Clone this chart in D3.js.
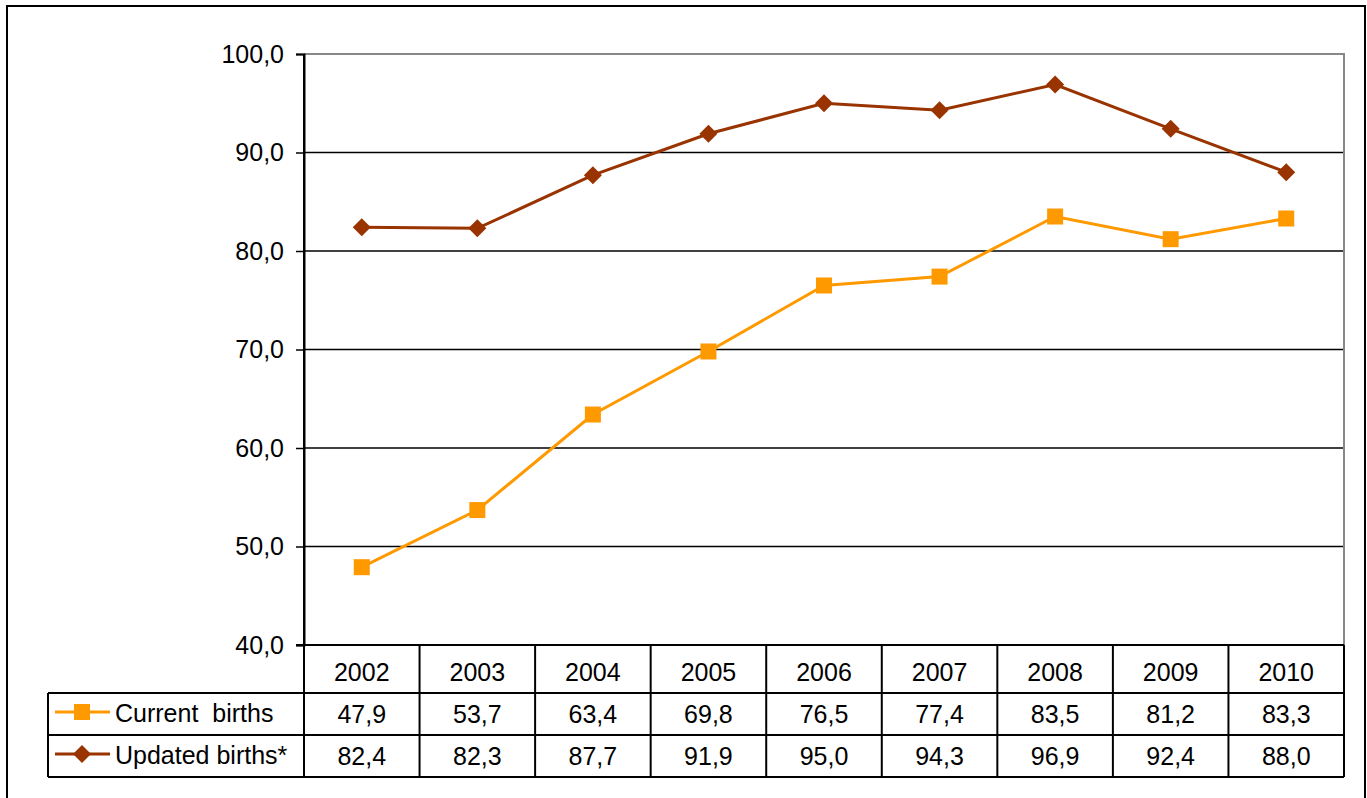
<!DOCTYPE html>
<html><head><meta charset="utf-8">
<script src="https://cdn.jsdelivr.net/npm/d3@7"></script>
<style>body{margin:0;background:#fff}svg text{font-family:"Liberation Sans",Arial,sans-serif}</style>
</head><body><svg id="c" width="1367" height="798"></svg>
<script>
const years = ["2002","2003","2004","2005","2006","2007","2008","2009","2010"];
const current = [47.9, 53.7, 63.4, 69.8, 76.5, 77.4, 83.5, 81.2, 83.3];
const updated = [82.4, 82.3, 87.7, 91.9, 95.0, 94.3, 96.9, 92.4, 88.0];
const yTicks = [40, 50, 60, 70, 80, 90, 100];
const series = [
  {name: "Current  births", values: current, color: "#FF9900", shape: "square"},
  {name: "Updated births*", values: updated, color: "#993300", shape: "diamond"}
];

const svg = d3.select("#c");
const fmt = v => d3.format(".1f")(v).replace(".", ",");
const L = 304, R = 1344, T = 54, B = 645;
const FS = 25;

svg.append("rect").attr("x", 7).attr("y", 6).attr("width", 1358).attr("height", 820)
  .attr("fill", "none").attr("stroke", "#000").attr("stroke-width", 2);

const x = d3.scaleBand().domain(years).range([L, R]);
const y = d3.scaleLinear().domain([40, 100]).range([B, T]);

// grid
svg.append("g").selectAll("line").data(yTicks.filter(t => t > 40 && t < 100)).join("line")
  .attr("x1", L).attr("x2", R).attr("y1", d => y(d)).attr("y2", d => y(d))
  .attr("stroke", "#000").attr("stroke-width", 1.3);
svg.append("path").attr("d", `M${L},${T}H${R}V${B}`).attr("fill", "none")
  .attr("stroke", "#888").attr("stroke-width", 2);

// y axis
const ya = svg.append("g").attr("transform", `translate(${L},0)`)
  .call(d3.axisLeft(y).tickValues(yTicks).tickFormat(fmt).tickSize(8).tickPadding(12));
ya.select(".domain").attr("stroke", "#000").attr("stroke-width", 2);
ya.selectAll(".tick line").attr("stroke", "#000").attr("stroke-width", 1.5);
ya.selectAll("text").attr("font-size", FS).attr("fill", "#000");

// table
const rows = [B, 693, 735, 777];
const tg = svg.append("g").attr("stroke", "#000").attr("stroke-width", 2);
tg.append("line").attr("x1", L - 8).attr("x2", R).attr("y1", B).attr("y2", B);
[693, 735, 777].forEach(r => tg.append("line").attr("x1", 48).attr("x2", R).attr("y1", r).attr("y2", r));
tg.append("line").attr("x1", 48).attr("x2", 48).attr("y1", 693).attr("y2", 777);
years.concat(["end"]).forEach((d, i) => {
  const xx = i < years.length ? x(d) : R;
  tg.append("line").attr("x1", xx).attr("x2", xx).attr("y1", i === 0 ? T : B).attr("y2", 777);
});
svg.append("g").selectAll("text").data(years).join("text")
  .attr("x", d => x(d) + x.bandwidth() / 2).attr("y", 681).attr("text-anchor", "middle")
  .attr("font-size", FS).text(d => d);

series.forEach((s, si) => {
  const ry = (rows[si + 1] + rows[si + 2]) / 2;
  svg.append("g").selectAll("text").data(s.values).join("text")
    .attr("x", (d, i) => x(years[i]) + x.bandwidth() / 2).attr("y", ry + 9)
    .attr("text-anchor", "middle").attr("font-size", FS).text(fmt);
  svg.append("line").attr("x1", 55).attr("x2", 110).attr("y1", ry - 2).attr("y2", ry - 2)
    .attr("stroke", s.color).attr("stroke-width", 3);
  svg.append("path").attr("fill", s.color)
    .attr("transform", `translate(82,${ry - 2})`)
    .attr("d", s.shape === "square" ? "M-8,-8H8V8H-8Z" : "M0,-9L9,0L0,9L-9,0Z");
  svg.append("text").attr("x", 115).attr("y", ry + 8).attr("font-size", FS)
    .style("white-space", "pre").text(s.name);

  // line
  const pts = s.values.map((v, i) => [x(years[i]) + x.bandwidth() / 2, y(v)]);
  svg.append("path").attr("d", d3.line()(pts)).attr("fill", "none")
    .attr("stroke", s.color).attr("stroke-width", 3);
  svg.append("g").selectAll("path").data(pts).join("path")
    .attr("transform", p => `translate(${p[0]},${p[1]})`).attr("fill", s.color)
    .attr("d", s.shape === "square" ? "M-8,-8H8V8H-8Z" : "M0,-9L9,0L0,9L-9,0Z");
});
</script></body></html>
